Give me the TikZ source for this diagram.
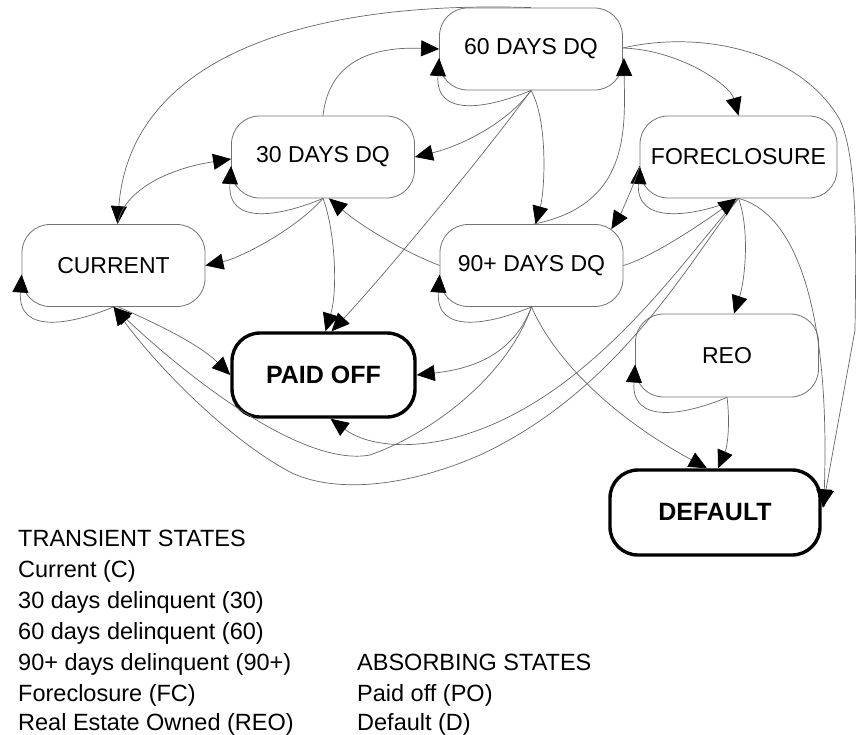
\documentclass[tikz,border=0pt]{standalone}
\usepackage{fontspec}
\setmainfont{Liberation Sans}
\usetikzlibrary{arrows.meta,calc}
\begin{document}
\begin{tikzpicture}[x=1pt,y=-1pt,
  stbox/.style={draw=black!55, line width=0.8pt, rounded corners=28pt, minimum width=183pt, minimum height=82pt, inner sep=0pt, font=\fontsize{23}{27}\selectfont},
  absorb/.style={stbox, draw=black, line width=3.4pt, font=\bfseries\fontsize{25}{29}\selectfont},
  conn/.style={draw=black!60, line width=0.7pt, -{Triangle[length=18pt,width=16pt,color=black,fill=black]}},
  legtxt/.style={anchor=base west, inner sep=0pt, font=\fontsize{23.5}{28}\selectfont}
]
\useasboundingbox (0,0) rectangle (856,734);

% states
\node[stbox] (c60) at (531,49) {60 DAYS DQ};
\node[stbox] (c30) at (323,157) {30 DAYS DQ};
\node[stbox] (cur) at (113.5,265.5) {CURRENT};
\node[stbox, minimum width=197pt] (fc) at (738.5,157) {FORECLOSURE};
\node[stbox] (n90) at (531.5,265.5) {90+ DAYS DQ};
\node[absorb, minimum height=84pt] (po) at (323.5,375) {PAID OFF};
\node[stbox, minimum height=83pt] (reo) at (727,355.5) {REO};
\node[absorb, minimum width=210pt, minimum height=85pt] (def) at (715,512.5) {DEFAULT};

% self loops
\foreach \n in {cur,c30,c60,fc,n90,reo}{
  \draw[conn] (\n.south) .. controls +(-43,18) and +(-4,60) .. ($(\n.west)+(0,9)$);
}

% 60 -> current (big arc)
\draw[conn] (c60.north) .. controls (300,0) and (130,60) .. ($(cur.north)+(4,0)$);
% current -> 30
\draw[conn] ($(cur.north)+(4,0)$) .. controls (122,195) and (160,170) .. ($(c30.west)+(0,2)$);
% 30 -> 60
\draw[conn] (c30.north) .. controls (328,70) and (360,46) .. (c60.west);
% 60 -> 30
\draw[conn] (c60.south) .. controls (510,120) and (465,145) .. (c30.east);
% 60 -> 90
\draw[conn] (c60.south) .. controls (548,120) and (545,190) .. ($(n90.north)+(4,0)$);
% 90 -> 60
\draw[conn] ($(n90.north)+(2,0)$) .. controls (630,205) and (625,130) .. ($(c60.east)+(1,9)$);
% 60 -> FC
\draw[conn] ($(c60.east)+(0,-1)$) .. controls (680,50) and (730,85) .. (fc.north);
% 60 -> default
\draw[conn] ($(c60.east)+(0,-1)$) .. controls (700,30) and (800,50) .. (840,120) .. controls (858,160) and (856,250) .. (855,330) -- ($(def.east)+(1,-5)$);
% FC -> default
\draw[conn] (fc.south) .. controls (800,215) and (830,320) .. ($(def.east)+(2,-5)$);
% FC -> REO
\draw[conn] (fc.south) .. controls (750,230) and (745,280) .. ($(reo.north)+(7,0)$);
% REO -> default
\draw[conn] (reo.south) .. controls (730,420) and (728,445) .. ($(def.north)+(3,0)$);
% 90 -> default
\draw[conn] (n90.south) .. controls (550,350) and (600,410) .. ($(def.north)+(-8,0)$);
% 90 -> paid off
\draw[conn] (n90.south) .. controls (515,350) and (480,368) .. (po.east);
% 90 -> current
\draw[conn] (n90.south) .. controls (510,370) and (440,430) .. (370,455) .. controls (300,468) and (180,370) .. (cur.south);
% FC -> paid off
\draw[conn] (fc.south) .. controls (690,250) and (600,390) .. (470,433) .. controls (420,450) and (370,448) .. ($(po.south)+(7,0)$);
% FC -> current
\draw[conn] (fc.south) .. controls (690,260) and (620,390) .. (480,455) .. controls (400,490) and (330,492) .. (290,472) .. controls (230,440) and (160,370) .. (cur.south);
% current -> paid off
\draw[conn] ($(cur.south)+(5,0)$) .. controls (160,325) and (200,345) .. (po.west);
% 30 -> current
\draw[conn] (c30.south) .. controls (295,230) and (240,258) .. (cur.east);
% 30 -> paid off
\draw[conn] (c30.south) .. controls (335,230) and (338,290) .. ($(po.north)+(2,0)$);
% 60 -> paid off
\draw[conn] (c60.south) .. controls (480,160) and (380,280) .. ($(po.north)+(8,0)$);
% 90 -> 30
\draw[conn] (n90.west) .. controls (400,250) and (360,225) .. ($(c30.south)+(6,0)$);
% 90 -> FC
\draw[conn] (n90.east) .. controls (650,258) and (700,225) .. ($(fc.south)+(-2,0)$);
% FC -> 90
\draw[conn] ($(fc.west)+(0,10)$) .. controls (632,190) and (620,215) .. ($(n90.north east)+(-12,5)$);

% legend
\node[legtxt] (t0) at (18,546) {TRANSIENT STATES};
\node[legtxt] (t1) at (18,577) {Current (C)};
\node[legtxt] (t2) at (18,608) {30 days delinquent (30)};
\node[legtxt] (t3) at (18,639) {60 days delinquent (60)};
\node[legtxt] (t4) at (18,670) {90+ days delinquent (90+)};
\node[legtxt] (t5) at (18,701) {Foreclosure (FC)};
\node[legtxt] (t6) at (18,730) {Real Estate Owned (REO)};
\node[legtxt] (a0) at (357,670) {ABSORBING STATES};
\node[legtxt] (a1) at (357,701) {Paid off (PO)};
\node[legtxt] (a2) at (357,730) {Default (D)};
\end{tikzpicture}
\end{document}
